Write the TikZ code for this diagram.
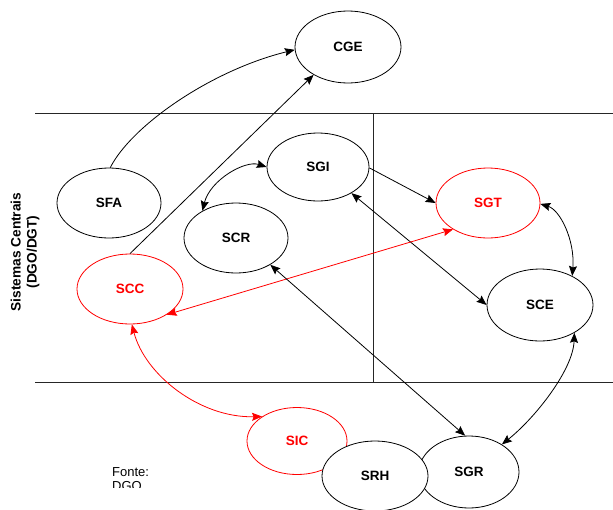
\documentclass[tikz,border=0pt]{standalone}
\usepackage{fontspec}
\setmainfont{Liberation Sans}
\usetikzlibrary{shapes.geometric,arrows.meta}
\tikzset{
  sys/.style={ellipse, draw=black, fill=white, line width=0.8pt, inner sep=0pt,
    minimum width=104pt, minimum height=70pt,
    font=\fontsize{13.5}{16}\selectfont\bfseries},
  redsys/.style={sys, draw=red, text=red},
  link/.style={line width=0.8pt, draw=black},
  redlink/.style={link, draw=red},
  tip/.style={-{Stealth[length=10pt,width=8pt,inset=1.5pt]}},
  tips/.style={{Stealth[length=10pt,width=8pt,inset=1.5pt]}-{Stealth[length=10pt,width=8pt,inset=1.5pt]}},
  frame/.style={line width=0.8pt, draw=black!85}
}
\begin{document}
\begin{tikzpicture}[x=1pt,y=-1pt]
\useasboundingbox (0,0) rectangle (613,509);
\clip (0,0) rectangle (613,509);
\fill[white] (0,0) rectangle (613,509);

% band of the central systems
\draw[frame] (35,113) -- (613,113);
\draw[frame] (35,382) -- (613,382);
\draw[frame] (373,113) -- (373,382);

\node[rotate=90, align=center, font=\fontsize{13.7}{16}\selectfont\bfseries]
  (band) at (25,252) {Sistemas Centrais\\(DGO/DGT)};

% systems
\node[sys, minimum width=106pt, minimum height=72pt] (CGE) at (348,47) {CGE};
\node[sys] (SFA) at (109,203) {SFA};
\node[redsys, minimum width=106pt] (SCC) at (130,289) {SCC};
\node[sys] (SCR) at (236,238) {SCR};
\node[sys, minimum width=102pt, minimum height=68pt] (SGI) at (318,167) {SGI};
\node[redsys] (SGT) at (488,203) {SGT};
\node[sys, minimum width=106pt, minimum height=72pt] (SCE) at (540,305) {SCE};
\node[redsys, minimum width=100pt, minimum height=67pt] (SIC) at (297,441) {SIC};
\node[sys, minimum width=100pt, minimum height=72pt] (SGR) at (469,472) {SGR};
\node[sys, minimum width=106pt] (SRH) at (375,476) {SRH};

% connectors
\draw[link, tip] (SFA.88) .. controls (132,125) and (212,70) .. (CGE.183);
\draw[link, tip] (SCC.90) -- (CGE.219);
\draw[link, tips] (SGI.180) .. controls (245,160) and (210,180) .. (SCR.141);
\draw[link, tip] (SGI.-1) -- (SGT.180);
\draw[link, tips] (SGI.-38) -- (SCE.180);
\draw[link, tips] (SGT.-1) .. controls (560,210) and (575,240) .. (SCE.42);
\draw[redlink, tips] (SGT.217) -- (SCC.-35);
\draw[link, tips] (SCR.-38) -- (SGR.96);
\draw[link, tips] (SCE.-39) .. controls (573,370) and (535,418) .. (SGR.40);
\draw[redlink, tips] (SCC.-87) .. controls (145,375) and (200,418) .. (SIC.145);

% source note, cut off at the lower edge of its box
\begin{scope}
\clip (100,455) rectangle (200,487.5);
\node[anchor=north west, inner sep=0pt, align=left,
  font=\fontsize{13}{14}\selectfont] (src) at (112,467) {Fonte:\\DGO};
\end{scope}
\end{tikzpicture}
\end{document}
